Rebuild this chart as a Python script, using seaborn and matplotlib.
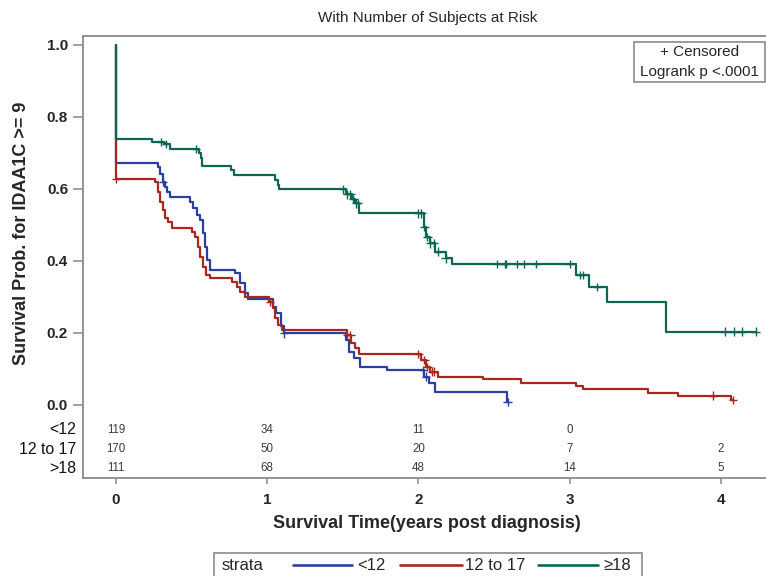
import numpy as np
import pandas as pd
import matplotlib
matplotlib.use("Agg")
import matplotlib.pyplot as plt
import seaborn as sns
from matplotlib.lines import Line2D
from matplotlib.patches import Rectangle
from matplotlib import font_manager

# ---------------- data ----------------
strata = ["<12", "12 to 17", "≥18"]

lt12_time = [0, 0, 0.28, 0.29, 0.31, 0.325, 0.34, 0.355, 0.49, 0.51, 0.535, 0.555,
             0.575, 0.59, 0.60, 0.62, 0.785, 0.82, 0.85, 0.87, 1.04, 1.06, 1.09,
             1.11, 1.52, 1.54, 1.575, 1.615, 1.79, 2.04, 2.07, 2.11, 2.585]
lt12_surv = [1.0, 0.673, 0.662, 0.643, 0.620, 0.606, 0.593, 0.577, 0.565, 0.546,
             0.528, 0.514, 0.477, 0.440, 0.403, 0.375, 0.366, 0.338, 0.310, 0.294,
             0.273, 0.255, 0.220, 0.199, 0.181, 0.148, 0.130, 0.106, 0.097, 0.079,
             0.060, 0.037, 0.009]
lt12_cens = [0.31, 1.11, 2.03, 2.05, 2.59]

mid_time = [0, 0, 0.26, 0.28, 0.29, 0.31, 0.325, 0.345, 0.37, 0.50, 0.52, 0.54,
            0.555, 0.575, 0.595, 0.62, 0.77, 0.80, 0.82, 0.85, 1.01, 1.04, 1.05,
            1.07, 1.10, 1.53, 1.555, 1.58, 1.61, 2.02, 2.05, 2.08, 2.13, 2.43, 2.68,
            3.04, 3.09, 3.52, 3.72, 4.07]
mid_surv = [1.0, 0.629, 0.620, 0.593, 0.565, 0.542, 0.519, 0.509, 0.493, 0.481,
            0.468, 0.440, 0.412, 0.384, 0.361, 0.352, 0.343, 0.329, 0.315, 0.301,
            0.287, 0.269, 0.241, 0.222, 0.208, 0.194, 0.171, 0.157, 0.141, 0.125,
            0.106, 0.093, 0.079, 0.071, 0.062, 0.053, 0.044, 0.034, 0.026, 0.013]
mid_cens = [0.0, 1.02, 1.53, 1.55, 2.00, 2.04, 2.06, 2.09, 2.10, 3.95, 4.08]

ge18_time = [0, 0, 0.24, 0.32, 0.36, 0.55, 0.56, 0.57, 0.76, 0.78, 1.05, 1.07,
             1.08, 1.52, 1.56, 1.58, 1.61, 2.04, 2.05, 2.08, 2.11, 2.18, 2.22,
             3.04, 3.13, 3.25, 3.64]
ge18_surv = [1.0, 0.738, 0.731, 0.725, 0.712, 0.700, 0.685, 0.664, 0.653, 0.639,
             0.625, 0.610, 0.599, 0.585, 0.572, 0.560, 0.532, 0.495, 0.467, 0.449,
             0.426, 0.407, 0.391, 0.361, 0.327, 0.285, 0.204]
ge18_cens = [0.30, 0.33, 0.53, 1.50, 1.53, 1.55, 1.57, 1.59, 1.60, 2.00, 2.02,
             2.04, 2.06, 2.08, 2.10, 2.13, 2.18, 2.52, 2.57, 2.58, 2.65, 2.70,
             2.78, 3.00, 3.07, 3.09, 3.18, 4.03, 4.09, 4.14, 4.23]

risk_times = [0, 1, 2, 3, 4]
risk_labels = ["<12", "12 to 17", ">18"]
risk_lt12 = [119, 34, 11, 0, None]
risk_mid = [170, 50, 20, 7, 2]
risk_ge18 = [111, 68, 48, 14, 5]

colors = ["#2a3f9e", "#a8281e", "#0b6654"]

# ---------------- build tables ----------------
curves = [(lt12_time, lt12_surv, lt12_cens),
          (mid_time, mid_surv, mid_cens),
          (ge18_time, ge18_surv, ge18_cens)]
rows, crow = [], []
for name, (t, s, c) in zip(strata, curves):
    t = np.asarray(t, float); s = np.asarray(s, float)
    for ti, si in zip(t, s):
        rows.append((ti, si, name))
    last = max(c)
    if last > t[-1]:
        rows.append((last, s[-1], name))
    for ci in c:
        idx = np.searchsorted(t, ci, side="right") - 1
        crow.append((ci, s[idx], name))
df = pd.DataFrame(rows, columns=["time", "surv", "strata"])
dc = pd.DataFrame(crow, columns=["time", "surv", "strata"])

# ---------------- fonts ----------------
sns.set_style("white")
avail = {f.name for f in font_manager.fontManager.ttflist}
base = "Liberation Sans"
narrow = "Liberation Sans Narrow" if "Liberation Sans Narrow" in avail else "Liberation Sans"
nscale = 1.0 if narrow == "Liberation Sans Narrow" else 0.82
plt.rcParams["font.family"] = [base, "DejaVu Sans"]

W, H = 766, 576
fig = plt.figure(figsize=(W / 100, H / 100), dpi=100)

def fx(px):
    return px / W

def fy(py):
    return 1 - py / H

x0 = 116.0; sx = 151.2
y0 = 405.0; sy = 360.0
left_px, right_px, top_px, bot_px = 82.7, 766, 36, 477.7
ax = fig.add_axes([fx(left_px), fy(bot_px), fx(right_px - left_px), (bot_px - top_px) / H])

sns.lineplot(data=df, x="time", y="surv", hue="strata", hue_order=strata,
             palette=colors, estimator=None, sort=False, drawstyle="steps-post",
             linewidth=1.6, legend=False, ax=ax)
sns.scatterplot(data=dc, x="time", y="surv", hue="strata", hue_order=strata,
                palette=colors, marker="+", s=36, linewidth=1.0, legend=False,
                ax=ax, zorder=3)

ax.set_xlim((left_px - x0) / sx, (right_px - x0) / sx)
ax.set_ylim((y0 - bot_px) / sy, (y0 - top_px) / sy)

gray = "#8a8a8a"
for side in ["left", "bottom", "top"]:
    ax.spines[side].set_color(gray)
    ax.spines[side].set_linewidth(1.3)
ax.spines["right"].set_visible(False)

yt = [0.0, 0.2, 0.4, 0.6, 0.8, 1.0]
ax.set_yticks(yt)
ax.set_yticklabels([f"{v:.1f}" for v in yt], fontweight="bold", fontsize=11)
ax.set_xticks(risk_times)
ax.set_xticklabels([str(v) for v in risk_times], fontweight="bold", fontsize=11)
ax.tick_params(axis="y", direction="out", length=7.5, width=1.1, color=gray, pad=3, left=True)
ax.tick_params(axis="x", direction="out", length=4, width=1.1, color=gray, pad=7, bottom=True)
ax.set_xlabel("")
ax.set_ylabel("")

# at-risk table
row_y = [(y0 - 430) / sy, (y0 - 449.3) / sy, (y0 - 468.3) / sy]
for lab, vals, yy in zip(risk_labels, [risk_lt12, risk_mid, risk_ge18], row_y):
    ax.text((76 - x0) / sx, yy, lab, ha="right", va="center", fontsize=13 * nscale + (0 if nscale == 1 else 0.8),
            family=[narrow, "DejaVu Sans"], color="#111111", clip_on=False)
    for t, v in zip(risk_times, vals):
        if v is None:
            continue
        ax.text(t, yy, str(v), ha="center", va="center", fontsize=9.5 * nscale + (0 if nscale == 1 else 0.5),
                family=[narrow, "DejaVu Sans"], color="#3a3a3a")

# title, axis labels
fig.text(fx(428), fy(18), "With Number of Subjects at Risk", ha="center", va="center", fontsize=11)
fig.text(fx(427), fy(523), "Survival Time(years post diagnosis)", ha="center", va="center",
         fontsize=13, fontweight="bold")
fig.text(fx(22), fy(233), "Survival Prob. for IDAA1C >= 9", ha="center", va="center",
         rotation=90, fontsize=13, fontweight="bold")

# censored / logrank box
fig.add_artist(Rectangle((fx(634), fy(82)), fx(766 - 634) - 0.0015, (82 - 42) / H,
                         transform=fig.transFigure, fill=False, ec=gray, lw=1.2))
fig.text(fx(700), fy(52), "+ Censored", ha="center", va="center", fontsize=11)
fig.text(fx(700), fy(72), "Logrank p <.0001", ha="center", va="center", fontsize=11)

# bottom legend
fig.add_artist(Rectangle((fx(214), fy(580)), fx(641.7 - 214), (580 - 553.3) / H,
                         transform=fig.transFigure, fill=False, ec=gray, lw=1.2))
ly = fy(565)
fig.text(fx(222), ly, "strata", ha="left", va="center", fontsize=12)
segs = [(292.7, 351.7, 357, "<12"), (400, 461.7, 465, "12 to 17"), (538, 598, 603, "≥18")]
for col, (a, b, tx, lab) in zip(colors, segs):
    fig.add_artist(Line2D([fx(a), fx(b)], [ly, ly], transform=fig.transFigure, color=col, lw=1.9))
    fig.text(fx(tx), ly, lab, ha="left", va="center", fontsize=12)

fig.savefig("out.png", dpi=100)
